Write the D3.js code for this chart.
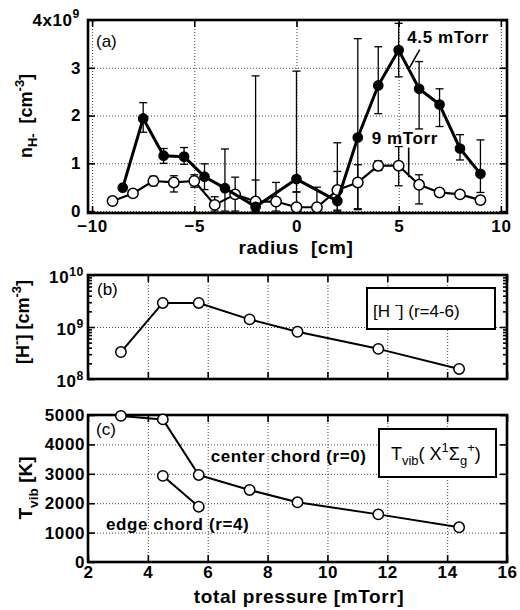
<!DOCTYPE html>
<html>
<head>
<meta charset="utf-8">
<script src="https://cdn.jsdelivr.net/npm/d3@7"></script>
<style>
body { margin: 0; background: #fff; }
text { font-family: "Liberation Sans", Arial, sans-serif; white-space: pre; }
</style>
</head>
<body>
<svg id="chart" width="520" height="610"></svg>
<script>
// ---------- panel (a) : n_H- vs radius ----------
const radius45 = [-8.5, -7.5, -6.5, -5.5, -4.5, -3.5, -2, 0, 2, 3, 4, 5, 6, 7, 8, 9];
const nH45 = [0.49, 1.94, 1.16, 1.14, 0.72, 0.48, 0.09, 0.67, 0.21, 1.54, 2.63, 3.37, 2.56, 2.23, 1.31, 0.78];
const nH45Lo = [0.49, 1.65, 1.0, 0.98, 0.45, 0.0, 0.0, 0.4, 0.0, 0.05, 2.04, 2.81, 1.72, 1.77, 1.07, 0.39];
const nH45Hi = [0.49, 2.27, 1.31, 1.33, 0.99, 1.3, 2.83, 2.93, 1.43, 3.61, 3.44, 3.93, 3.13, 2.56, 1.6, 1.49];

const radius9 = [-9, -8, -7, -6, -5, -4, -3, -2, -1, 0, 1, 2, 3, 4, 5, 6, 7, 8, 9];
const nH9 = [0.21, 0.37, 0.63, 0.6, 0.63, 0.13, 0.35, 0.2, 0.2, 0.08, 0.08, 0.44, 0.6, 0.95, 0.95, 0.55, 0.39, 0.35, 0.23];
const nH9Lo = [0.21, 0.37, 0.53, 0.4, 0.5, 0.0, 0.0, 0.0, 0.0, 0.0, 0.0, 0.02, 0.03, 0.85, 0.53, 0.15, 0.31, 0.3, 0.15];
const nH9Hi = [0.21, 0.37, 0.73, 0.74, 0.76, 0.3, 0.71, 0.65, 0.6, 0.4, 0.5, 0.83, 0.97, 1.05, 1.35, 0.76, 0.47, 0.4, 0.31];

const radiusTicks = [-10, -5, 0, 5, 10];
const nTicks = [0, 1, 2, 3, 4];

// ---------- panel (b) : [H-] vs pressure ----------
const pressure = [3.1, 4.5, 5.7, 7.4, 9.0, 11.7, 14.4];
const hMinus = [3.3e8, 2.9e9, 2.9e9, 1.4e9, 8.1e8, 3.8e8, 1.56e8];
const hMajor = [1e8, 1e9, 1e10];
const hMinor = [2e8, 3e8, 4e8, 5e8, 6e8, 7e8, 8e8, 9e8, 2e9, 3e9, 4e9, 5e9, 6e9, 7e9, 8e9, 9e9];

// ---------- panel (c) : Tvib vs pressure ----------
const tvibCenter = [4970, 4850, 2960, 2450, 2030, 1620, 1180];
const pressureEdge = [4.5, 5.7];
const tvibEdge = [2930, 1880];
const pressureTicks = [2, 4, 6, 8, 10, 12, 14, 16];
const tvibTicks = [0, 1000, 2000, 3000, 4000, 5000];

const svg = d3.select("#chart");
const L = 88, R = 507;
const BOLD = 17;

const xA = d3.scaleLinear().domain([-10.2, 10.3]).range([L, R]);
const yA = d3.scaleLinear().domain([-0.04, 4]).range([213, 20]);
const xP = d3.scaleLinear().domain([2, 16]).range([L, R]);
const yB = d3.scaleLog().domain([1e8, 1e10]).range([379, 275]);
const yC = d3.scaleLinear().domain([0, 5000]).range([562, 415]);

function rich(t, parts) {
    // parts: [text, shift]  shift 0 normal, 1 super, -1 sub
    let cur = 0;
    parts.forEach(([s, k]) => {
        const ts = t.append("tspan").text(s);
        const target = k === 1 ? -0.45 : k === -1 ? 0.3 : 0;
        const d = target - cur;
        if (k !== 0) ts.attr("font-size", "0.72em");
        if (d !== 0) ts.attr("dy", (k !== 0 ? d / 0.72 : d) + "em");
        cur = target;
    });
}

function styleAxis(g) {
    g.select(".domain").remove();
    g.selectAll(".tick line").attr("stroke", "#000").attr("stroke-width", 1.6);
    g.selectAll("text").attr("font-family", "\"Liberation Sans\", Arial, sans-serif")
        .attr("font-size", BOLD).attr("font-weight", "bold").attr("fill", "#000")
        .attr("letter-spacing", 0.6);
}

function frame(x, y, xGrid, yGrid, xTicks, yTicks, xFmt, xPad) {
    const [x0, x1] = x.range();
    const [yb, yt] = y.range();
    const gx = svg.append("g").attr("transform", `translate(0,${yb})`)
        .call(d3.axisBottom(x).tickValues(xGrid).tickSize(-(yb - yt)).tickFormat(""));
    const gy = svg.append("g").attr("transform", `translate(${x0},0)`)
        .call(d3.axisLeft(y).tickValues(yGrid).tickSize(-(x1 - x0)).tickFormat(""));
    [gx, gy].forEach(g => {
        g.select(".domain").remove();
        g.selectAll(".tick line").attr("stroke", "#444").attr("stroke-width", 1)
            .attr("stroke-dasharray", "1,2");
    });
    const bot = svg.append("g").attr("transform", `translate(0,${yb})`)
        .call(d3.axisBottom(x).tickValues(xTicks).tickSizeInner(-7).tickSizeOuter(0)
            .tickPadding(xPad).tickFormat(xFmt));
    styleAxis(bot);
    const top = svg.append("g").attr("transform", `translate(0,${yt})`)
        .call(d3.axisTop(x).tickValues(xTicks).tickSizeInner(-7).tickSizeOuter(0).tickFormat(""));
    styleAxis(top);
    const rgt = svg.append("g").attr("transform", `translate(${x1},0)`)
        .call(d3.axisRight(y).tickValues(yTicks).tickSizeInner(-7).tickSizeOuter(0).tickFormat(""));
    styleAxis(rgt);
    svg.append("rect").attr("x", x0).attr("y", yt).attr("width", x1 - x0).attr("height", yb - yt)
        .attr("fill", "none").attr("stroke", "#000").attr("stroke-width", 2.6);
}

function leftAxis(x, y, ticks, fmt, pad, size) {
    const g = svg.append("g").attr("transform", `translate(${x.range()[0]},0)`)
        .call(d3.axisLeft(y).tickValues(ticks).tickSizeInner(-size).tickSizeOuter(0)
            .tickPadding(pad).tickFormat(fmt));
    styleAxis(g);
    return g;
}

function errorBars(x, y, xs, lo, hi) {
    const g = svg.append("g").attr("stroke", "#000").attr("stroke-width", 1.3);
    xs.forEach((r, i) => {
        if (hi[i] - lo[i] < 0.01) return;
        const cx = x(r);
        g.append("line").attr("x1", cx).attr("x2", cx).attr("y1", y(lo[i])).attr("y2", y(hi[i]));
        [lo[i], hi[i]].forEach(v => {
            g.append("line").attr("x1", cx - 4).attr("x2", cx + 4).attr("y1", y(v)).attr("y2", y(v));
        });
    });
}

function series(x, y, xs, ys, filled, lw) {
    const pts = xs.map((v, i) => [v, ys[i]]);
    svg.append("path").datum(pts)
        .attr("d", d3.line().x(d => x(d[0])).y(d => y(d[1])))
        .attr("fill", "none").attr("stroke", "#000").attr("stroke-width", lw)
        .attr("stroke-linejoin", "round");
    svg.append("g").selectAll("circle").data(pts).join("circle")
        .attr("cx", d => x(d[0])).attr("cy", d => y(d[1]))
        .attr("r", filled ? 4.6 : 5.2)
        .attr("fill", filled ? "#000" : "#fff")
        .attr("stroke", "#000").attr("stroke-width", 1.5);
}

function label(x, y, t, size, weight) {
    return svg.append("text").attr("x", x).attr("y", y).text(t)
        .attr("font-size", size).attr("font-weight", weight || "bold");
}

// ================= panel (a) =================
frame(xA, yA, radiusTicks, nTicks, radiusTicks, nTicks, d3.format("d"), 7);
const axA = leftAxis(xA, yA, nTicks, d => d === 4 ? "" : d, 7, 7);
axA.selectAll(".tick").filter(d => d === 4).select("text").each(function () {
    const t = d3.select(this).attr("x", -8);
    rich(t, [["4x10", 0], ["9", 1]]);
});
errorBars(xA, yA, radius9, nH9Lo, nH9Hi);
errorBars(xA, yA, radius45, nH45Lo, nH45Hi);
series(xA, yA, radius9, nH9, false, 2.2);
series(xA, yA, radius45, nH45, true, 3);

label(96, 47, "(a)", 17, "normal");
label(xA(5.42), yA(3.51), "4.5 mTorr", BOLD).attr("letter-spacing", 0.6);
svg.append("line").attr("x1", xA(6.03)).attr("y1", yA(3.38)).attr("x2", xA(5.49)).attr("y2", yA(2.97))
    .attr("stroke", "#000").attr("stroke-width", 1.6);
label(xA(3.68), yA(1.41), "9 mTorr", BOLD).attr("letter-spacing", 0.6);
svg.append("line").attr("x1", xA(5.49)).attr("y1", yA(1.33)).attr("x2", xA(5.49)).attr("y2", yA(0.71))
    .attr("stroke", "#000").attr("stroke-width", 1.6);

const yLabA = svg.append("text").attr("transform", "translate(32,116) rotate(-90)")
    .attr("text-anchor", "middle").attr("font-size", 18).attr("font-weight", "bold");
rich(yLabA, [["n", 0], ["H-", -1], ["\u00a0\u00a0[cm", 0], ["-3", 1], ["]", 0]]);
label(296, 254, "radius\u00a0\u00a0[cm]", 19).attr("text-anchor", "middle").attr("letter-spacing", 0.6);

// ================= panel (b) =================
frame(xP, yB, pressureTicks, [1e9], pressureTicks, [1e9], () => "", 4);
leftAxis(xP, yB, hMinor, () => "", 4, 4);
svg.append("g").attr("transform", `translate(${R},0)`)
    .call(d3.axisRight(yB).tickValues(hMinor).tickSizeInner(-4).tickSizeOuter(0).tickFormat(""))
    .call(styleAxis);
const axB = leftAxis(xP, yB, hMajor, () => "", 4, 7);
axB.selectAll(".tick text").each(function (d) {
    const t = d3.select(this).attr("x", -4).attr("dy", "0.45em");
    rich(t, [["10", 0], [String(Math.round(Math.log10(d))), 1]]);
});
series(xP, yB, pressure, hMinus, false, 2);
label(97, 295, "(b)", 17, "normal");
svg.append("rect").attr("x", 367).attr("y", 288).attr("width", 128).attr("height", 41)
    .attr("fill", "#fff").attr("stroke", "#000").attr("stroke-width", 2);
const legB = svg.append("text").attr("x", 373).attr("y", 317).attr("font-size", 17);
rich(legB, [["[H\u00a0", 0], ["-", 1], ["] (r=4-6)", 0]]);
const yLabB = svg.append("text").attr("transform", "translate(29,322) rotate(-90)")
    .attr("text-anchor", "middle").attr("font-size", 18).attr("font-weight", "bold");
rich(yLabB, [["[H", 0], ["-", 1], ["] [cm", 0], ["-3", 1], ["]", 0]]);

// ================= panel (c) =================
frame(xP, yC, pressureTicks, tvibTicks, pressureTicks, tvibTicks, d3.format("d"), 4);
leftAxis(xP, yC, tvibTicks, d3.format("d"), 3, 7);
series(xP, yC, pressure, tvibCenter, false, 2);
series(xP, yC, pressureEdge, tvibEdge, false, 2);
label(96, 435, "(c)", 17, "normal");
label(xP(6.1), yC(3412), "center chord (r=0)", BOLD).attr("letter-spacing", 0.6);
label(xP(2.6), yC(1088), "edge chord (r=4)", BOLD).attr("letter-spacing", 0.6);
svg.append("rect").attr("x", 379).attr("y", 429).attr("width", 117).attr("height", 48)
    .attr("fill", "#fff").attr("stroke", "#000").attr("stroke-width", 2);
const legC = svg.append("text").attr("x", 391).attr("y", 460).attr("font-size", 18);
rich(legC, [["T", 0], ["vib", -1], ["( X", 0], ["1", 1], ["Σ", 0], ["g", -1], ["+", 1], [")", 0]]);
const yLabC = svg.append("text").attr("transform", "translate(32,488) rotate(-90)")
    .attr("text-anchor", "middle").attr("font-size", 19).attr("font-weight", "bold");
rich(yLabC, [["T", 0], ["vib", -1], [" [K]", 0]]);
label(299, 603, "total pressure [mTorr]", 19).attr("text-anchor", "middle").attr("letter-spacing", 0.6);
</script>
</body>
</html>
